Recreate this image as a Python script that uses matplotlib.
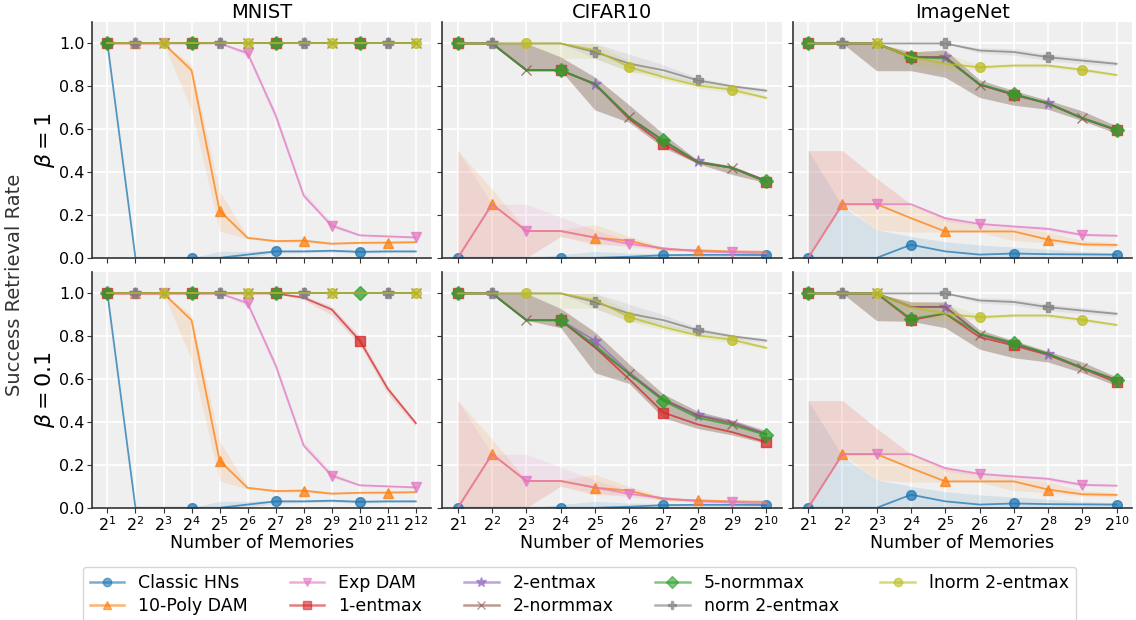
import matplotlib
matplotlib.use("Agg")
import matplotlib.pyplot as plt
from matplotlib.lines import Line2D

# ---------- data ----------
METHODS = ["Classic HNs", "10-Poly DAM", "Exp DAM", "1-entmax", "2-entmax",
           "2-normmax", "5-normmax", "norm 2-entmax", "lnorm 2-entmax"]
DATASETS = ["MNIST", "CIFAR10", "ImageNet"]
BETAS = [r"$\beta=1$", r"$\beta=0.1$"]

mnist_mem = [2, 4, 8, 16, 32, 64, 128, 256, 512, 1024, 2048, 4096]
cifar_mem = [2, 4, 8, 16, 32, 64, 128, 256, 512, 1024]
imagenet_mem = [2, 4, 8, 16, 32, 64, 128, 256, 512, 1024]

# MNIST (same for both betas unless noted)
mnist_ones = [1.0, 1.0, 1.0, 1.0, 1.0, 1.0, 1.0, 1.0, 1.0, 1.0, 1.0, 1.0]
mnist_hn = [1.0, 0.0, 0.0, 0.0, 0.0, 0.015, 0.03, 0.03, 0.033, 0.028, 0.03, 0.03]
mnist_hn_lo = [1.0, 0.0, 0.0, 0.0, 0.0, 0.0, 0.022, 0.024, 0.026, 0.022, 0.024, 0.025]
mnist_hn_hi = [1.0, 0.0, 0.0, 0.0, 0.03, 0.03, 0.036, 0.036, 0.04, 0.034, 0.036, 0.035]
mnist_poly = [1.0, 1.0, 1.0, 0.875, 0.22, 0.093, 0.078, 0.08, 0.066, 0.07, 0.071, 0.073]
mnist_poly_lo = [1.0, 1.0, 1.0, 0.69, 0.125, 0.088, 0.072, 0.072, 0.06, 0.066, 0.066, 0.068]
mnist_poly_hi = [1.0, 1.0, 1.0, 0.9, 0.31, 0.1, 0.085, 0.088, 0.072, 0.075, 0.076, 0.078]
mnist_exp = [1.0, 1.0, 1.0, 1.0, 1.0, 0.955, 0.665, 0.29, 0.15, 0.105, 0.1, 0.095]
mnist_exp_lo = [1.0, 1.0, 1.0, 1.0, 1.0, 0.94, 0.64, 0.28, 0.14, 0.1, 0.095, 0.09]
mnist_exp_hi = [1.0, 1.0, 1.0, 1.0, 1.0, 0.965, 0.68, 0.31, 0.165, 0.11, 0.105, 0.1]
mnist_b01_ent1 = [1.0, 1.0, 1.0, 1.0, 1.0, 1.0, 1.0, 0.98, 0.925, 0.78, 0.555, 0.395]
mnist_b01_ent1_lo = [1.0, 1.0, 1.0, 1.0, 1.0, 1.0, 1.0, 0.97, 0.9, 0.76, 0.53, 0.38]
mnist_b01_ent1_hi = [1.0, 1.0, 1.0, 1.0, 1.0, 1.0, 1.0, 0.99, 0.94, 0.8, 0.57, 0.4]

# CIFAR10 - low curves (same for both betas)
cifar_hn = [0.0, 0.0, 0.0, 0.0, 0.0, 0.005, 0.012, 0.014, 0.014, 0.013]
cifar_hn_lo = [0.0, 0.0, 0.0, 0.0, 0.0, 0.0, 0.0, 0.0, 0.0, 0.0]
cifar_hn_hi = [0.0, 0.0, 0.0, 0.015, 0.03, 0.022, 0.02, 0.02, 0.018, 0.017]
cifar_poly = [0.0, 0.25, 0.125, 0.125, 0.094, 0.08, 0.04, 0.035, 0.03, 0.028]
cifar_poly_lo = [0.0, 0.0, 0.0, 0.1, 0.06, 0.06, 0.035, 0.03, 0.025, 0.025]
cifar_poly_hi = [0.5, 0.32, 0.13, 0.13, 0.155, 0.1, 0.05, 0.04, 0.035, 0.032]
cifar_exp = [0.0, 0.25, 0.125, 0.125, 0.095, 0.065, 0.045, 0.03, 0.025, 0.02]
cifar_exp_lo = [0.0, 0.0, 0.0, 0.1, 0.07, 0.05, 0.035, 0.025, 0.02, 0.015]
cifar_exp_hi = [0.5, 0.25, 0.25, 0.19, 0.13, 0.08, 0.05, 0.035, 0.03, 0.025]
cifar_gray = [1.0, 1.0, 1.0, 1.0, 0.96, 0.906, 0.875, 0.828, 0.8, 0.78]
cifar_gray_lo = [1.0, 1.0, 1.0, 1.0, 0.93, 0.87, 0.85, 0.81, 0.79, 0.77]
cifar_gray_hi = [1.0, 1.0, 1.0, 1.0, 1.0, 0.95, 0.9, 0.84, 0.81, 0.79]
cifar_olive = [1.0, 1.0, 1.0, 1.0, 0.969, 0.89, 0.843, 0.804, 0.784, 0.746]
cifar_olive_lo = [1.0, 1.0, 1.0, 0.93, 0.93, 0.87, 0.83, 0.79, 0.77, 0.74]
cifar_olive_hi = [1.0, 1.0, 1.0, 1.0, 1.0, 0.92, 0.86, 0.82, 0.8, 0.76]
# CIFAR10 beta=1
cifar_b1_ent1 = [1.0, 1.0, 0.875, 0.875, 0.81, 0.647, 0.53, 0.444, 0.42, 0.354]
cifar_b1_ent2 = [1.0, 1.0, 0.875, 0.875, 0.812, 0.655, 0.545, 0.45, 0.42, 0.36]
cifar_b1_norm2 = [1.0, 1.0, 0.875, 0.875, 0.81, 0.655, 0.545, 0.447, 0.42, 0.36]
cifar_b1_norm5 = [1.0, 1.0, 0.875, 0.875, 0.812, 0.655, 0.548, 0.447, 0.42, 0.357]
cifar_b1_grp_lo = [1.0, 1.0, 0.875, 0.875, 0.69, 0.632, 0.514, 0.44, 0.389, 0.35]
cifar_b1_grp_hi = [1.0, 1.0, 1.0, 0.937, 0.843, 0.713, 0.577, 0.455, 0.43, 0.365]
# CIFAR10 beta=0.1
cifar_b01_ent1 = [1.0, 1.0, 0.875, 0.875, 0.749, 0.6, 0.444, 0.389, 0.353, 0.307]
cifar_b01_ent2 = [1.0, 1.0, 0.875, 0.875, 0.78, 0.632, 0.506, 0.433, 0.401, 0.345]
cifar_b01_norm2 = [1.0, 1.0, 0.875, 0.875, 0.749, 0.625, 0.505, 0.43, 0.393, 0.345]
cifar_b01_norm5 = [1.0, 1.0, 0.875, 0.875, 0.76, 0.624, 0.498, 0.42, 0.386, 0.339]
cifar_b01_grp_lo = [1.0, 1.0, 0.875, 0.84, 0.63, 0.58, 0.42, 0.37, 0.34, 0.3]
cifar_b01_grp_hi = [1.0, 1.0, 1.0, 0.93, 0.82, 0.67, 0.53, 0.45, 0.41, 0.36]

# ImageNet - low curves (same for both betas)
imnet_hn = [0.0, 0.0, 0.0, 0.061, 0.03, 0.015, 0.02, 0.017, 0.016, 0.015]
imnet_hn_lo = [0.0, 0.0, 0.0, 0.0, 0.0, 0.0, 0.0, 0.0, 0.0, 0.0]
imnet_hn_hi = [0.5, 0.24, 0.13, 0.1, 0.075, 0.06, 0.05, 0.04, 0.03, 0.022]
imnet_poly = [0.0, 0.25, 0.25, 0.185, 0.123, 0.123, 0.123, 0.085, 0.063, 0.06]
imnet_poly_lo = [0.0, 0.25, 0.13, 0.12, 0.12, 0.12, 0.08, 0.07, 0.055, 0.05]
imnet_poly_hi = [0.5, 0.5, 0.37, 0.25, 0.19, 0.15, 0.14, 0.12, 0.08, 0.07]
imnet_exp = [0.0, 0.25, 0.25, 0.25, 0.185, 0.158, 0.146, 0.135, 0.107, 0.103]
imnet_exp_lo = [0.0, 0.25, 0.25, 0.25, 0.17, 0.15, 0.14, 0.125, 0.1, 0.098]
imnet_exp_hi = [0.5, 0.5, 0.37, 0.25, 0.19, 0.165, 0.155, 0.145, 0.115, 0.11]
imnet_gray = [1.0, 1.0, 1.0, 1.0, 1.0, 0.967, 0.96, 0.936, 0.92, 0.905]
imnet_gray_lo = [1.0, 1.0, 1.0, 1.0, 1.0, 0.955, 0.945, 0.92, 0.905, 0.895]
imnet_gray_hi = [1.0, 1.0, 1.0, 1.0, 1.0, 0.98, 0.975, 0.95, 0.935, 0.915]
imnet_olive = [1.0, 1.0, 1.0, 0.936, 0.905, 0.889, 0.897, 0.897, 0.877, 0.853]
imnet_olive_lo = [1.0, 1.0, 1.0, 0.9, 0.87, 0.88, 0.89, 0.888, 0.868, 0.845]
imnet_olive_hi = [1.0, 1.0, 1.0, 0.965, 0.955, 0.9, 0.905, 0.905, 0.886, 0.86]
# ImageNet beta=1
imnet_b1_ent1 = [1.0, 1.0, 1.0, 0.936, 0.936, 0.808, 0.761, 0.72, 0.651, 0.595]
imnet_b1_ent2 = [1.0, 1.0, 1.0, 0.936, 0.936, 0.81, 0.762, 0.72, 0.652, 0.597]
imnet_b1_norm2 = [1.0, 1.0, 1.0, 0.936, 0.936, 0.808, 0.76, 0.72, 0.651, 0.596]
imnet_b1_norm5 = [1.0, 1.0, 1.0, 0.936, 0.93, 0.81, 0.765, 0.72, 0.652, 0.598]
imnet_b1_grp_lo = [1.0, 1.0, 0.873, 0.873, 0.842, 0.748, 0.712, 0.693, 0.64, 0.58]
imnet_b1_grp_hi = [1.0, 1.0, 1.0, 0.96, 0.97, 0.83, 0.78, 0.735, 0.685, 0.615]
# ImageNet beta=0.1
imnet_b01_ent1 = [1.0, 1.0, 1.0, 0.875, 0.906, 0.796, 0.757, 0.713, 0.65, 0.585]
imnet_b01_ent2 = [1.0, 1.0, 1.0, 0.937, 0.937, 0.809, 0.765, 0.718, 0.652, 0.596]
imnet_b01_norm2 = [1.0, 1.0, 1.0, 0.937, 0.937, 0.808, 0.765, 0.718, 0.652, 0.596]
imnet_b01_norm5 = [1.0, 1.0, 1.0, 0.882, 0.906, 0.812, 0.77, 0.718, 0.652, 0.596]
imnet_b01_grp_lo = [1.0, 1.0, 0.873, 0.87, 0.84, 0.74, 0.7, 0.68, 0.63, 0.57]
imnet_b01_grp_hi = [1.0, 1.0, 1.0, 0.96, 0.96, 0.83, 0.78, 0.73, 0.68, 0.61]

# ---------- styles ----------
COLORS = ["tab:blue", "tab:orange", "tab:pink", "tab:red", "tab:purple",
          "tab:brown", "tab:green", "tab:gray", "tab:olive"]
MARKERS = ["o", "^", "v", "s", "*", "x", "D", "P", "o"]
FACE = "#efefef"
SPINE = "#333333"


def panel(mean, lo=None, hi=None):
    return (mean, lo, hi)


# (x values, [(mean, lo, hi) per method]) for [row][col]
grid = [
    [
        (mnist_mem, [panel(mnist_hn, mnist_hn_lo, mnist_hn_hi),
                     panel(mnist_poly, mnist_poly_lo, mnist_poly_hi),
                     panel(mnist_exp, mnist_exp_lo, mnist_exp_hi),
                     panel(mnist_ones), panel(mnist_ones), panel(mnist_ones),
                     panel(mnist_ones), panel(mnist_ones), panel(mnist_ones)]),
        (cifar_mem, [panel(cifar_hn, cifar_hn_lo, cifar_hn_hi),
                     panel(cifar_poly, cifar_poly_lo, cifar_poly_hi),
                     panel(cifar_exp, cifar_exp_lo, cifar_exp_hi),
                     panel(cifar_b1_ent1, cifar_b1_grp_lo, cifar_b1_grp_hi),
                     panel(cifar_b1_ent2, cifar_b1_grp_lo, cifar_b1_grp_hi),
                     panel(cifar_b1_norm2, cifar_b1_grp_lo, cifar_b1_grp_hi),
                     panel(cifar_b1_norm5, cifar_b1_grp_lo, cifar_b1_grp_hi),
                     panel(cifar_gray, cifar_gray_lo, cifar_gray_hi),
                     panel(cifar_olive, cifar_olive_lo, cifar_olive_hi)]),
        (imagenet_mem, [panel(imnet_hn, imnet_hn_lo, imnet_hn_hi),
                        panel(imnet_poly, imnet_poly_lo, imnet_poly_hi),
                        panel(imnet_exp, imnet_exp_lo, imnet_exp_hi),
                        panel(imnet_b1_ent1, imnet_b1_grp_lo, imnet_b1_grp_hi),
                        panel(imnet_b1_ent2, imnet_b1_grp_lo, imnet_b1_grp_hi),
                        panel(imnet_b1_norm2, imnet_b1_grp_lo, imnet_b1_grp_hi),
                        panel(imnet_b1_norm5, imnet_b1_grp_lo, imnet_b1_grp_hi),
                        panel(imnet_gray, imnet_gray_lo, imnet_gray_hi),
                        panel(imnet_olive, imnet_olive_lo, imnet_olive_hi)]),
    ],
    [
        (mnist_mem, [panel(mnist_hn, mnist_hn_lo, mnist_hn_hi),
                     panel(mnist_poly, mnist_poly_lo, mnist_poly_hi),
                     panel(mnist_exp, mnist_exp_lo, mnist_exp_hi),
                     panel(mnist_b01_ent1, mnist_b01_ent1_lo, mnist_b01_ent1_hi),
                     panel(mnist_ones), panel(mnist_ones), panel(mnist_ones),
                     panel(mnist_ones), panel(mnist_ones)]),
        (cifar_mem, [panel(cifar_hn, cifar_hn_lo, cifar_hn_hi),
                     panel(cifar_poly, cifar_poly_lo, cifar_poly_hi),
                     panel(cifar_exp, cifar_exp_lo, cifar_exp_hi),
                     panel(cifar_b01_ent1, cifar_b01_grp_lo, cifar_b01_grp_hi),
                     panel(cifar_b01_ent2, cifar_b01_grp_lo, cifar_b01_grp_hi),
                     panel(cifar_b01_norm2, cifar_b01_grp_lo, cifar_b01_grp_hi),
                     panel(cifar_b01_norm5, cifar_b01_grp_lo, cifar_b01_grp_hi),
                     panel(cifar_gray, cifar_gray_lo, cifar_gray_hi),
                     panel(cifar_olive, cifar_olive_lo, cifar_olive_hi)]),
        (imagenet_mem, [panel(imnet_hn, imnet_hn_lo, imnet_hn_hi),
                        panel(imnet_poly, imnet_poly_lo, imnet_poly_hi),
                        panel(imnet_exp, imnet_exp_lo, imnet_exp_hi),
                        panel(imnet_b01_ent1, imnet_b01_grp_lo, imnet_b01_grp_hi),
                        panel(imnet_b01_ent2, imnet_b01_grp_lo, imnet_b01_grp_hi),
                        panel(imnet_b01_norm2, imnet_b01_grp_lo, imnet_b01_grp_hi),
                        panel(imnet_b01_norm5, imnet_b01_grp_lo, imnet_b01_grp_hi),
                        panel(imnet_gray, imnet_gray_lo, imnet_gray_hi),
                        panel(imnet_olive, imnet_olive_lo, imnet_olive_hi)]),
    ],
]

# ---------- plotting ----------
fig, axes = plt.subplots(2, 3, figsize=(11.36, 6.2), dpi=100,
                         sharey=True, sharex="col")
fig.subplots_adjust(left=0.081, right=0.9965, top=0.9645, bottom=0.181,
                    wspace=0.033, hspace=0.06)

for r in range(2):
    for c in range(3):
        ax = axes[r, c]
        xs, series = grid[r][c]
        ax.set_facecolor(FACE)
        for i, (mean, lo, hi) in enumerate(series):
            if lo is not None:
                ax.fill_between(xs, lo, hi, color=COLORS[i], alpha=0.12,
                                linewidth=0)
            ax.plot(xs, mean, color=COLORS[i], marker=MARKERS[i], lw=1.3,
                    ms=7 if MARKERS[i] != "*" else 8.5, alpha=0.75,
                    markevery=(i % 3, 3), label=METHODS[i])
        ax.set_xscale("log", base=2)
        ax.set_xticks(xs)
        ax.minorticks_off()
        ax.set_ylim(0, 1.1)
        ax.set_yticks([0.0, 0.2, 0.4, 0.6, 0.8, 1.0])
        ax.grid(color="white", lw=1.2)
        ax.set_axisbelow(True)
        for s in ["top", "right"]:
            ax.spines[s].set_visible(False)
        for s in ["left", "bottom"]:
            ax.spines[s].set_color(SPINE)
            ax.spines[s].set_linewidth(1.2)
        ax.tick_params(labelsize=11.5, length=3.5, color=SPINE, pad=2)
        if r == 0:
            ax.set_title(DATASETS[c], fontsize=14, pad=3)
        else:
            ax.set_xlabel("Number of Memories", fontsize=12.5, labelpad=0)
        if c == 0:
            ax.set_ylabel(BETAS[r], fontsize=16, labelpad=1)

fig.text(0.013, 0.54, "Success Retrieval Rate", rotation=90, va="center",
         ha="center", fontsize=14, color="#333333")

handles = [Line2D([], [], color=COLORS[i], marker=MARKERS[i], lw=1.8,
                  ms=6 if MARKERS[i] != "*" else 7, alpha=0.6)
           for i in range(len(METHODS))]
fig.legend(handles, METHODS, loc="upper center", bbox_to_anchor=(0.51, 0.1),
           ncol=5, fontsize=12.5, frameon=True, fancybox=True,
           edgecolor="#cccccc", handlelength=2.0, columnspacing=2.4,
           borderpad=0.4, labelspacing=0.3)

fig.savefig("out.png", dpi=100)
